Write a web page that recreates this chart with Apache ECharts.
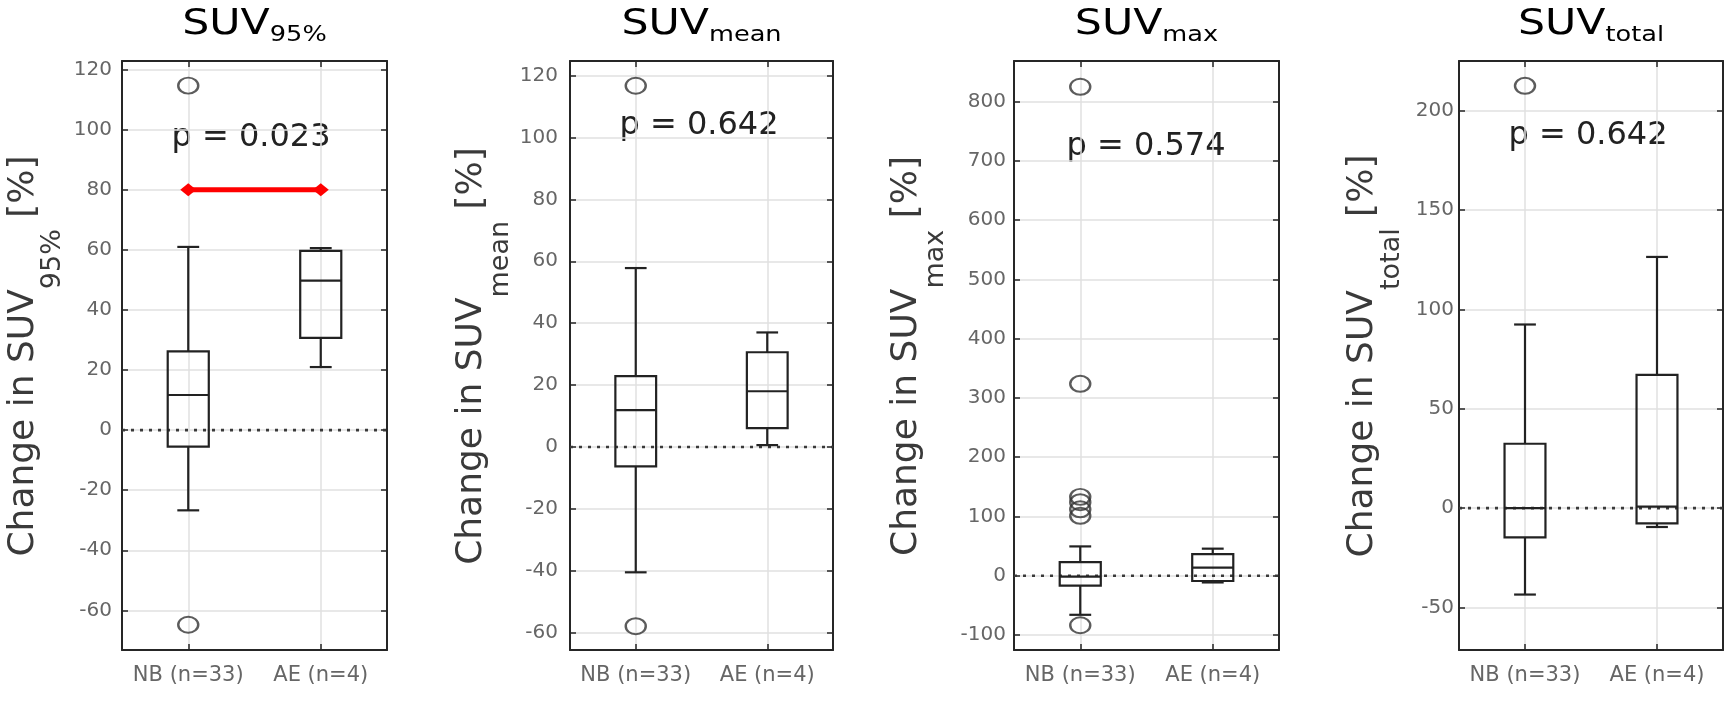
<!DOCTYPE html>
<html>
<head>
<meta charset="utf-8">
<script src="https://cdn.jsdelivr.net/npm/echarts@6/dist/echarts.min.js"></script>
<style>
html,body{margin:0;padding:0;background:#fff;}
#c{width:1731px;height:702px;}
</style>
</head>
<body>
<div id="c"></div>
<script>
// ---------------- data ----------------
const categories = ['NB (n=33)', 'AE (n=4)'];
const metricSubs = ['95%', 'mean', 'max', 'total'];
const pValues = ['0.023', '0.642', '0.574', '0.642'];
const yTickSteps = [20, 20, 100, 50];

// box stats: [lower whisker, Q1, median, Q3, upper whisker]
const suv95NB = [-26.7, -5.5, 11.7, 26.2, 61.0];
const suv95AE = [21.0, 30.7, 49.8, 59.7, 60.6];
const suv95OutNB = [114.7, -64.8];
const suv95OutAE = [];
const suv95Sig = 80;

const suvMeanNB = [-40.5, -6.3, 11.9, 22.9, 57.8];
const suvMeanAE = [0.6, 6.1, 18.0, 30.6, 37.0];
const suvMeanOutNB = [116.7, -57.9];
const suvMeanOutAE = [];

const suvMaxNB = [-66.0, -16.7, -1.5, 22.8, 49.4];
const suvMaxAE = [-11.4, -9.0, 13.7, 36.5, 45.6];
const suvMaxOutNB = [825, 323.7, 133, 124, 112, 101, -83.6];
const suvMaxOutAE = [];

const suvTotalNB = [-43.5, -14.7, 0.0, 32.4, 92.4];
const suvTotalAE = [-9.5, -7.7, 0.7, 67.0, 126.4];
const suvTotalOutNB = [212.5];
const suvTotalOutAE = [];

// ---------------- layout ----------------
const F = 'DejaVu Sans';
const TOP = 61, H = 589;
const BOX_W = 0.31, CAP_W = 0.165;
const panels = [
  {left:122, width:265, min:-73.2, max:122.9, margin:10, nameX:36,   pX:251,  pY:138, nb:suv95NB,    ae:suv95AE,    outNB:suv95OutNB,    outAE:suv95OutAE, sig:suv95Sig},
  {left:570, width:263, min:-65.6, max:124.7, margin:12, nameX:484,  pX:699,  pY:126, nb:suvMeanNB,  ae:suvMeanAE,  outNB:suvMeanOutNB,  outAE:suvMeanOutAE},
  {left:1014,width:265, min:-125.4,max:868.5, margin:8,  nameX:919,  pX:1146, pY:147, nb:suvMaxNB,   ae:suvMaxAE,   outNB:suvMaxOutNB,   outAE:suvMaxOutAE},
  {left:1459,width:264, min:-71.4, max:225,   margin:5,  nameX:1375, pX:1588, pY:136, nb:suvTotalNB, ae:suvTotalAE, outNB:suvTotalOutNB, outAE:suvTotalOutAE}
];

function renderBox(params, api) {
  const x = api.value(0);
  const low = api.coord([x, api.value(1)]);
  const q1 = api.coord([x, api.value(2)]);
  const med = api.coord([x, api.value(3)]);
  const q3 = api.coord([x, api.value(4)]);
  const high = api.coord([x, api.value(5)]);
  const bw = api.size([BOX_W, 0])[0];
  const cw = api.size([CAP_W, 0])[0];
  const cx = med[0];
  const st = {stroke:'#222', lineWidth:2.2, fill:'none'};
  return {type:'group', children:[
    {type:'line', shape:{x1:cx, y1:high[1], x2:cx, y2:q3[1]}, style:st},
    {type:'line', shape:{x1:cx, y1:q1[1], x2:cx, y2:low[1]}, style:st},
    {type:'line', shape:{x1:cx-cw/2, y1:high[1], x2:cx+cw/2, y2:high[1]}, style:st},
    {type:'line', shape:{x1:cx-cw/2, y1:low[1], x2:cx+cw/2, y2:low[1]}, style:st},
    {type:'rect', shape:{x:cx-bw/2, y:q3[1], width:bw, height:q1[1]-q3[1]}, style:st},
    {type:'line', shape:{x1:cx-bw/2, y1:med[1], x2:cx+bw/2, y2:med[1]}, style:st}
  ]};
}

const grid = [], xAxis = [], yAxis = [], series = [], graphic = [];
const frame = {show:true, onZero:false, lineStyle:{color:'#262626', width:2}};
const tick = {show:true, inside:true, length:6, lineStyle:{color:'#262626', width:1.5}};
const gridLine = {show:true, showMinLine:false, showMaxLine:false, lineStyle:{color:'#e0e0e0', width:1.5}};

panels.forEach((p, i) => {
  grid.push({left:p.left, top:TOP, width:p.width, height:H, show:false});
  const xb = {gridIndex:i, type:'value', min:0.5, max:2.5, minInterval:1, maxInterval:1, axisLine:frame, axisTick:tick};
  xAxis.push(Object.assign({}, xb, {position:'bottom',
    axisLabel:{margin:15, fontFamily:F, fontSize:21, color:'#666', showMinLabel:false, showMaxLabel:false,
      formatter: v => (Number.isInteger(v) && categories[v-1]) ? categories[v-1] : ''},
    splitLine:gridLine}));
  xAxis.push(Object.assign({}, xb, {position:'top', axisLabel:{show:false}, splitLine:{show:false}}));
  const step = yTickSteps[i];
  const yb = {gridIndex:i, type:'value', min:p.min, max:p.max, minInterval:step, maxInterval:step, axisLine:frame, axisTick:tick};
  yAxis.push(Object.assign({}, yb, {position:'left',
    axisLabel:{margin:p.margin, fontFamily:F, fontSize:20, color:'#666', showMinLabel:false, showMaxLabel:false},
    splitLine:gridLine}));
  yAxis.push(Object.assign({}, yb, {position:'right', axisLabel:{show:false}, splitLine:{show:false}}));

  const xi = 2*i, yi = 2*i;
  series.push({type:'line', xAxisIndex:xi, yAxisIndex:yi, data:[[0.5,0],[2.5,0]], symbol:'none', silent:true,
    lineStyle:{color:'#3a3a3a', width:2.6, type:[3,6]}, z:3});
  series.push({type:'custom', xAxisIndex:xi, yAxisIndex:yi, renderItem:renderBox,
    data:[[1].concat(p.nb), [2].concat(p.ae)], encode:{x:0, y:[1,2,3,4,5]}, z:4, silent:true});
  series.push({type:'scatter', xAxisIndex:xi, yAxisIndex:yi,
    data:p.outNB.map(v => [1, v]).concat(p.outAE.map(v => [2, v])),
    symbol:'circle', symbolSize:[20,16], itemStyle:{color:'rgba(0,0,0,0)', borderColor:'#333', borderWidth:2.2}, z:5, silent:true});
  if (p.sig != null) {
    series.push({type:'line', xAxisIndex:xi, yAxisIndex:yi, data:[[1,p.sig],[2,p.sig]],
      symbol:'diamond', symbolSize:[16,13], itemStyle:{color:'#ff0000'}, lineStyle:{color:'#ff0000', width:5}, z:6, silent:true});
  }

  const cx = p.left + p.width/2;
  graphic.push({type:'text', x:cx, y:7, scaleX:1.22, silent:true, style:{
    text:'{m|SUV}{s|' + metricSubs[i] + '}', fontFamily:F, fontSize:35, fill:'#000',
    align:'center', verticalAlign:'top',
    rich:{m:{fontFamily:F, fontSize:35, fill:'#000', verticalAlign:'top', lineHeight:35},
          s:{fontFamily:F, fontSize:21, fill:'#000', verticalAlign:'bottom', lineHeight:39}}}});
  graphic.push({type:'text', x:p.pX, y:p.pY, silent:true, style:{
    text:'p = ' + pValues[i], fontFamily:F, fontSize:32, fill:'#222', align:'center', verticalAlign:'middle'}});
  graphic.push({type:'text', x:p.nameX, y:356, rotation:Math.PI/2, silent:true, style:{
    text:'{m|Change in SUV}{s|' + metricSubs[i] + '}{m| [%]}', fontFamily:F, fontSize:36, fill:'#3a3a3a',
    align:'center', verticalAlign:'middle',
    rich:{m:{fontFamily:F, fontSize:36, fill:'#3a3a3a', verticalAlign:'top', lineHeight:36},
          s:{fontFamily:F, fontSize:27, fill:'#3a3a3a', verticalAlign:'bottom', lineHeight:60}}}});
});

const chart = echarts.init(document.getElementById('c'));
chart.setOption({backgroundColor:'#fff', animation:false, grid, xAxis, yAxis, series, graphic});
</script>
</body>
</html>
